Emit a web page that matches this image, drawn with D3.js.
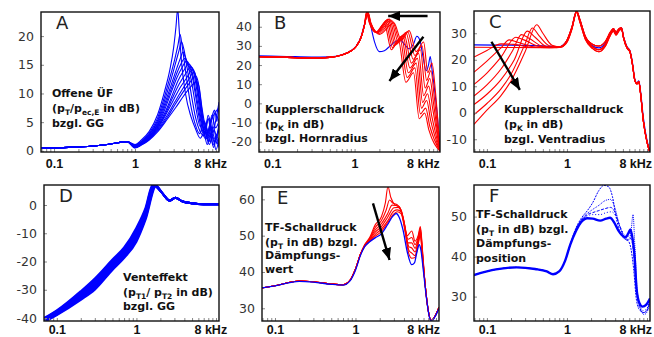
<!DOCTYPE html>
<html>
<head>
<meta charset="utf-8">
<script src="https://cdn.jsdelivr.net/npm/d3@7"></script>
<style>
  body { margin: 0; background: #fff; }
</style>
</head>
<body>
<svg id="chart" width="654" height="337"></svg>
<script>
// ---- data (frequency in kHz, level in dB) ----
const freqDomain = [0.069, 10.9]
const xTickValues = [0.1, 1, 8]
const xTickLabels = ["0.1", "1", "8 kHz"]
const minorTicks = [0.07, 0.08, 0.09, 0.1, 0.2, 0.3, 0.4, 0.5, 0.6, 0.7, 0.8, 0.9, 1, 2, 3, 4, 5, 6, 7, 8, 9, 10]

const A_yTicks = [0, 5, 10, 15, 20]
const B_yTicks = [-20, -10, 0, 10, 20, 30, 40]
const C_yTicks = [-10, 0, 10, 20, 30]
const D_yTicks = [-40, -30, -20, -10, 0]
const E_yTicks = [30, 40, 50, 60]
const F_yTicks = [30, 40, 50]

// A: offene Uebertragungsfunktion
const A_low = [[0.069,0.5],[0.15,0.6],[0.3,0.85],[0.5,1.2],[0.8,1.6]]
const A_curves = [
  [[1.0,1.1],[1.2,1.9],[1.5,3.4],[1.9,6.3],[2.3,10.2],[2.7,14.2],[3.0,18],[3.2,21.5],[3.37,24.8],[3.5,21.5],[3.75,15.5],[4.2,10],[4.9,6],[5.6,3.8],[6.4,2.2],[7.3,3.4],[8.2,1.6],[9.2,4.2],[10.1,2.8],[10.9,4]],
  [[1.0,1.0],[1.2,1.7],[1.5,3.1],[1.9,5.7],[2.3,9.3],[2.7,12.8],[3.1,16],[3.4,18.5],[3.6,20.3],[3.8,18.5],[4.2,14],[4.8,8.5],[5.5,4.8],[6.3,3],[7.1,5],[8.0,2.2],[8.9,5.5],[9.9,6.8],[10.9,7.5]],
  [[1.0,0.95],[1.2,1.6],[1.5,2.9],[1.9,5.3],[2.3,8.6],[2.7,11.8],[3.1,14.8],[3.5,17.5],[3.75,19],[4.0,17.8],[4.4,14.5],[5.0,9.5],[5.6,5.8],[6.3,3.5],[7.2,2.6],[8.1,5.6],[9.1,3.2],[10.0,5.5],[10.9,8.5]],
  [[1.0,0.9],[1.2,1.5],[1.5,2.8],[1.9,5.0],[2.3,8.0],[2.8,11.5],[3.3,14.5],[3.65,16.2],[3.9,17.2],[4.2,16.3],[4.6,14.6],[5.1,11.3],[5.7,7.2],[6.4,4.2],[7.2,5.2],[8.0,3.0],[8.9,6.2],[9.9,4.0],[10.9,5.2]],
  [[1.0,0.85],[1.2,1.4],[1.5,2.6],[1.9,4.7],[2.3,7.5],[2.8,10.8],[3.3,13.6],[3.7,15.2],[4.1,16.1],[4.5,15.2],[5.0,13.6],[5.5,10.3],[6.1,6.3],[6.8,3.2],[7.6,4.2],[8.5,1.6],[9.5,3.6],[10.3,1.2],[10.9,2.3]],
  [[1.0,0.8],[1.2,1.3],[1.5,2.5],[1.9,4.5],[2.3,7.0],[2.8,10.2],[3.3,12.8],[3.8,14.5],[4.3,15.6],[4.7,15.1],[5.2,13.1],[5.8,9.2],[6.5,5.1],[7.3,2.2],[8.2,3.7],[9.2,1.0],[10.2,2.7],[10.9,1.0]],
  [[1.0,0.75],[1.2,1.25],[1.5,2.4],[1.9,4.3],[2.4,7.0],[2.9,9.8],[3.4,12.2],[4.0,14.0],[4.6,15.1],[5.0,14.6],[5.5,12.6],[6.0,9.2],[6.6,5.2],[7.3,3.1],[8.0,6.2],[8.8,4.1],[9.8,2.0],[10.9,4.7]],
  [[1.0,0.7],[1.2,1.2],[1.5,2.3],[1.9,4.1],[2.4,6.6],[2.9,9.2],[3.5,11.6],[4.2,13.4],[4.9,14.6],[5.3,14.1],[5.8,11.6],[6.3,8.1],[6.9,4.2],[7.6,2.1],[8.4,4.6],[9.3,0.6],[10.2,2.1],[10.9,0.6]],
  [[1.0,0.65],[1.2,1.15],[1.5,2.2],[1.9,3.9],[2.4,6.3],[3.0,8.9],[3.6,11.0],[4.3,12.6],[5.1,14.1],[5.5,13.6],[6.0,10.6],[6.5,7.1],[7.1,3.6],[7.8,1.1],[8.6,3.1],[9.5,1.6],[10.9,3.6]],
  [[1.0,0.6],[1.2,1.1],[1.5,2.1],[1.9,3.7],[2.5,6.2],[3.1,8.5],[3.8,10.6],[4.5,12.2],[5.3,13.6],[5.7,12.6],[6.2,9.6],[6.7,6.6],[7.3,4.1],[8.0,5.6],[8.8,3.1],[9.7,6.6],[10.9,5.1]],
  [[1.0,0.55],[1.2,1.05],[1.5,2.0],[1.9,3.5],[2.5,5.8],[3.1,8.0],[3.9,10.2],[4.7,11.8],[5.6,13.1],[6.0,12.1],[6.5,8.6],[7.0,5.1],[7.6,2.6],[8.3,1.1],[9.1,2.6],[10.0,0.2],[10.9,2.1]],
  [[1.0,0.5],[1.2,1.0],[1.5,1.9],[1.9,3.3],[2.5,5.5],[3.2,7.6],[4.0,9.6],[4.9,11.2],[5.8,12.1],[6.2,11.1],[6.7,7.6],[7.3,4.6],[8.0,3.1],[8.8,5.6],[9.6,7.1],[10.3,5.1],[10.9,8.2]]
]

// B: Kupplerschalldruck, Hornradius
const B_blue = [[0.069,24.8],[0.15,24.5],[0.3,24.2],[0.5,24.3],[0.7,25.4],[0.9,27.5],[1.05,30],[1.2,35],[1.32,41.5],[1.45,47.2],[1.58,40],[1.75,32],[2.0,27],[2.3,27.5],[2.7,30],[3.2,32.5],[3.6,33],[4.0,31],[4.6,28.5],[5.2,31],[5.7,35],[6.2,33],[6.8,24],[7.4,17],[7.9,20],[8.3,24.5],[8.7,18],[9.5,5],[10.3,-10],[10.9,-24]]
const B_low = [[0.069,24.3],[0.15,24],[0.3,23.7],[0.5,24],[0.7,25.2],[0.9,27.3],[1.05,29.8],[1.2,34.5],[1.32,41]]
const B_red = [
  [[1.46,47.5],[1.58,42],[2.0,36],[3.0,42],[3.7,33],[4.6,38],[5.6,27],[6.9,32],[7.75,16],[8.7,21],[9.6,6],[10.9,-25]],
  [[1.45,47.5],[1.57,42],[1.97,36.5],[2.88,43],[3.55,32.5],[4.4,37.5],[5.4,25],[6.6,30],[7.5,12],[8.45,17],[9.3,3],[10.9,-25]],
  [[1.44,47.5],[1.56,42],[1.94,37],[2.77,43.5],[3.4,32],[4.2,37],[5.15,23],[6.3,28],[7.2,8],[8.2,13],[9.1,0],[10.9,-25]],
  [[1.43,47.5],[1.55,42],[1.91,37],[2.66,44],[3.25,31],[4.0,36],[4.9,21],[6.0,26],[6.9,4],[7.95,9],[8.9,-3],[10.9,-25]],
  [[1.42,47.5],[1.54,42],[1.88,37],[2.56,44],[3.12,30.5],[3.85,35.5],[4.7,18.5],[5.8,23.5],[6.7,0.5],[7.7,5],[8.6,-6],[10.9,-25]],
  [[1.41,47.5],[1.53,42],[1.85,37],[2.46,43.5],[3.0,30],[3.7,35],[4.5,16],[5.6,21],[6.5,-2.5],[7.5,1.5],[8.4,-9],[10.9,-25]],
  [[1.40,47.5],[1.52,42],[1.82,37],[2.38,42.5],[2.9,29],[3.55,34],[4.35,13.5],[5.4,18.5],[6.3,-5.5],[7.3,-2.5],[8.2,-12],[10.9,-25]],
  [[1.39,47.5],[1.51,42],[1.8,37],[2.3,41.5],[2.8,28],[3.4,33],[4.2,11],[5.2,16],[6.1,-8],[7.1,-5],[8.0,-14],[10.9,-25]]
]

// C: Kupplerschalldruck, Ventradius
const C_blue = [[0.069,25.6],[0.2,25.5],[0.5,25.2],[0.8,24.9],[1.0,27.2],[1.15,32],[1.32,38.3],[1.45,35],[1.7,28.5],[2.1,25.2],[2.5,24.5],[3.0,26.2],[3.5,30.2],[3.8,31.6],[4.1,30.2],[4.5,31.6],[4.8,32],[5.1,28.5],[5.6,25],[6.1,23.5],[6.6,18.5],[7.0,13],[7.5,11.2],[7.9,12],[8.3,8],[9.0,-2],[10,-10.5],[10.9,-14.5]]
const C_redLow = [
  [[0.069,24.7],[0.2,24.6],[0.5,24.6],[0.8,24.8]],
  [[0.069,21],[0.1,23.5],[0.15,26],[0.22,25.8],[0.35,24.7],[0.6,24.6],[0.8,24.8]],
  [[0.069,15.3],[0.1,19.5],[0.15,24.5],[0.19,27.5],[0.25,26.5],[0.4,24.8],[0.6,24.6],[0.8,24.8]],
  [[0.069,10.7],[0.1,15],[0.15,21],[0.23,28.5],[0.29,27.5],[0.45,25],[0.65,24.6],[0.8,24.8]],
  [[0.069,6.3],[0.1,10.5],[0.15,16.5],[0.21,23.5],[0.27,29.5],[0.34,28],[0.5,25],[0.7,24.6],[0.85,24.8]],
  [[0.069,3.1],[0.1,7],[0.15,12.5],[0.22,20],[0.32,30.8],[0.4,28.5],[0.55,25],[0.75,24.6],[0.85,24.8]],
  [[0.069,-0.7],[0.1,3.5],[0.15,9],[0.2,14.5],[0.3,26],[0.37,32],[0.45,29],[0.6,25.3],[0.8,24.8]],
  [[0.069,-4.4],[0.1,1],[0.15,6.5],[0.2,12],[0.3,23],[0.42,33.2],[0.5,30],[0.65,25.5],[0.85,24.8]]
]
const C_redHigh = [
  [[1.0,27.4],[1.15,32.2],[1.32,38.4],[1.45,35.2],[1.7,28.8],[2.1,25.8],[2.5,25.2],[3.0,26.8],[3.5,30.5],[3.8,31.8],[4.1,30.5],[4.5,31.8],[4.8,32.1],[5.1,28.5],[5.6,24.8],[6.1,23.3],[6.6,18],[7.0,12.5],[7.5,11],[7.9,11.8],[8.3,7.5],[9.0,-3],[10,-11],[10.9,-15]],
  [[1.0,27],[1.15,31.8],[1.32,38.2],[1.45,34.6],[1.7,28.2],[2.1,24.8],[2.5,23.8],[3.0,25.6],[3.5,29.8],[3.8,31.2],[4.1,29.8],[4.5,31.3],[4.8,31.8],[5.1,28.2],[5.6,24.6],[6.1,23.2],[6.6,18.2],[7.0,12.8],[7.5,11],[7.9,11.8],[8.3,7.5],[9.0,-3],[10,-11],[10.9,-15]],
  [[1.0,26.6],[1.15,31.4],[1.32,37.9],[1.45,34.2],[1.7,27.6],[2.1,24.2],[2.5,23.0],[3.0,25.0],[3.5,29.3],[3.8,30.8],[4.1,29.3],[4.5,31.0],[4.8,31.5],[5.1,28],[5.6,24.4],[6.1,23],[6.6,18],[7.0,12.6],[7.5,10.8],[7.9,11.6],[8.3,7.2],[9.0,-3.2],[10,-11.2],[10.9,-15]]
]
const C_redHighIndex = [0, 1, 2, 0, 1, 2, 0, 1]

// D: Venteffekt
const D_curves = [
  [[0.069,-40],[0.1,-37.3],[0.2,-30.5],[0.3,-26],[0.5,-19.3],[0.7,-15],[1.0,-8],[1.3,-1],[1.6,7.2]],
  [[0.069,-40.2],[0.1,-37.5],[0.2,-31],[0.3,-26.6],[0.5,-19.8],[0.7,-15.5],[1.0,-8.7],[1.3,-1.6],[1.62,7.1]],
  [[0.069,-40.4],[0.1,-37.8],[0.2,-31.4],[0.3,-27.1],[0.5,-20.4],[0.7,-16.1],[1.0,-9.4],[1.3,-2.2],[1.65,7.1]],
  [[0.069,-40.6],[0.1,-38],[0.2,-31.8],[0.3,-27.7],[0.5,-20.9],[0.7,-16.6],[1.0,-10.1],[1.3,-2.8],[1.67,7]],
  [[0.069,-40.9],[0.1,-38.3],[0.2,-32.3],[0.3,-28.3],[0.5,-21.4],[0.7,-17.2],[1.0,-10.9],[1.3,-3.5],[1.7,7]],
  [[0.069,-41.1],[0.1,-38.5],[0.2,-32.7],[0.3,-28.9],[0.5,-21.9],[0.7,-17.7],[1.0,-11.6],[1.3,-4.1],[1.72,6.9]],
  [[0.069,-41.3],[0.1,-38.8],[0.2,-33.1],[0.3,-29.4],[0.5,-22.5],[0.7,-18.3],[1.0,-12.3],[1.3,-4.7],[1.75,6.9]],
  [[0.069,-41.5],[0.1,-39],[0.2,-33.6],[0.3,-30],[0.5,-23],[0.7,-18.8],[1.0,-13],[1.3,-5.3],[1.78,6.8]]
]
const D_tail = [[2.1,4.3],[2.6,1.6],[3.1,2.6],[3.7,1.4],[5,0.6],[7,0.3],[10.9,0.3]]

// E: TF-Schalldruck, Daempfungswert
const E_blue = [[0.069,35.6],[0.1,36.2],[0.2,37.4],[0.3,37.2],[0.5,36.6],[0.7,36.4],[0.85,37.5],[1.0,40.5],[1.15,44.5],[1.3,47],[1.5,48.3],[1.75,49.4],[2.1,50.5],[2.5,53],[2.9,55.3],[3.2,56.1],[3.5,55],[3.9,51.5],[4.4,45.5],[5.0,42],[5.4,42.5],[5.8,45.5],[6.2,47.5],[6.5,46],[7.0,40],[7.6,33],[8.3,27.5],[8.8,26.5],[9.6,27.5],[10.9,30]]
const E_low = [[0.069,35.6],[0.1,36.2],[0.2,37.5],[0.3,37.3],[0.5,36.7],[0.7,36.5],[0.85,37.6],[1.0,40.8],[1.15,44.8]]
const E_red = [
  [[1.3,47.5],[1.5,49.5],[1.75,52.9],[2.1,55.2],[2.35,59],[2.53,63.5],[2.75,60.5],[3.1,58.5],[3.5,58],[3.9,55],[4.4,50],[5.0,51.3],[5.5,48.5],[6.0,50],[6.4,52.5],[6.8,46]],
  [[1.3,47.4],[1.5,49.2],[1.75,52.2],[2.1,54.2],[2.4,57],[2.65,59.8],[2.9,59],[3.3,58.5],[3.6,57.5],[4.0,54],[4.5,49],[5.0,49.5],[5.5,47.5],[6.0,49.5],[6.4,52],[6.8,45.5]],
  [[1.3,47.3],[1.5,49],[1.75,51.5],[2.1,53.3],[2.5,56],[2.85,58.4],[3.2,58.3],[3.6,57.3],[4.0,53.5],[4.5,48],[5.0,48],[5.5,46.5],[6.0,49],[6.4,51.5],[6.8,45]],
  [[1.3,47.2],[1.5,48.8],[1.75,50.9],[2.1,52.5],[2.5,55],[3.0,57.7],[3.4,57.8],[3.7,57],[4.1,52.5],[4.6,47],[5.0,46.6],[5.5,45.5],[6.0,48.5],[6.4,51],[6.8,44.5]],
  [[1.3,47.1],[1.5,48.6],[1.75,50.3],[2.1,51.8],[2.5,54],[3.0,56.8],[3.3,57.1],[3.7,56.5],[4.1,52],[4.6,46],[5.0,45.2],[5.5,44.5],[6.0,48],[6.4,50.5],[6.8,44]],
  [[1.3,47],[1.5,48.4],[1.75,49.8],[2.1,51.2],[2.5,53.5],[3.0,56],[3.3,56.6],[3.7,56],[4.1,51.5],[4.6,45],[5.0,43.8],[5.5,44],[6.0,47.5],[6.4,50],[6.8,43.5]]
]
const E_tail = [[7.3,37],[8.0,29.5],[8.7,26.6],[9.6,27.6],[10.9,30.3]]

// F: TF-Schalldruck, Daempfungsposition
const F_low = [[0.069,35.4],[0.13,36.8],[0.235,37.3],[0.4,36.9],[0.56,36.3],[0.67,35.6],[0.8,36.3],[0.95,39],[1.1,43]]
const F_curves = [
  [[1.3,47.2],[1.5,49.5],[1.8,51.5],[2.1,53.5],[2.5,56.5],[2.9,57.8],[3.3,57.5],[3.7,55],[4.1,50],[4.6,46],[5.2,44.5],[5.8,44],[6.3,42],[6.8,37],[7.4,29],[8.2,26.5],[9.2,26],[10.2,27],[10.9,29.5]],
  [[1.3,47],[1.5,49.2],[1.8,50.8],[2.1,51.8],[2.5,52.8],[3.0,54],[3.5,54.3],[4.0,52],[4.5,48],[5.1,45],[5.7,44],[6.2,45],[6.7,50.5],[7.0,44],[7.5,32],[8.3,27],[9.2,25.5],[10.2,26.5],[10.9,28.5]],
  [[1.3,46.8],[1.5,49],[1.8,50.5],[2.1,51],[2.5,51.5],[3.0,52],[3.5,52.3],[4.0,51],[4.5,48],[5.1,45.3],[5.7,44.3],[6.3,44.5],[6.8,41],[7.3,33],[8.0,27.5],[9.0,26],[10.0,26.5],[10.9,29]],
  [[1.3,46.6],[1.5,48.8],[1.8,50.2],[2.1,50.5],[2.6,50.5],[3.1,51],[3.6,51.2],[4.1,50],[4.6,47.5],[5.2,45.5],[5.8,45],[6.3,46],[6.8,43],[7.3,34],[8.0,28],[9.0,26.5],[10.0,27],[10.9,30]],
  [[1.3,46.5],[1.5,48.6],[1.8,49.6],[2.1,49.5],[2.6,49],[3.1,49.5],[3.45,49.7],[3.9,48.5],[4.4,46.5],[4.9,45.3],[5.4,44.8],[5.9,46],[6.2,46.8],[6.6,44.5],[7.0,40],[7.4,32],[8.0,28.5],[8.8,27.5],[9.8,28],[10.9,29.5]]
]

// arrows in data coordinates [kHz, dB]
const arrows = [
  {panel: "B", from: [7.7, 45.6], to: [2.56, 45.6]},
  {panel: "B", from: [6.85, 34.8], to: [2.65, 11.7]},
  {panel: "C", from: [0.114, 26.8], to: [0.258, 8.6]},
  {panel: "E", from: [1.65, 58.9], to: [2.65, 43.3]}
]

const labels = {
  A: ["Offene ÜF", "(p_T/p_ec,E in dB)", "bzgl. GG"],
  B: ["Kupplerschalldruck", "(p_K in dB)", "bzgl. Hornradius"],
  C: ["Kupplerschalldruck", "(p_K in dB)", "bzgl. Ventradius"],
  D: ["Venteffekt", "(p_T1/ p_T2 in dB)", "bzgl. GG"],
  E: ["TF-Schalldruck", "(p_T in dB) bzgl.", "Dämpfungs-", "wert"],
  F: ["TF-Schalldruck", "(p_T in dB) bzgl.", "Dämpfungs-", "position"]
}

// ---- styles / layout ----
const blue = "#0000ff"
const red = "#ff0000"
const F_styles = [
  {w: 1, dash: "2,1"},
  {w: 1, dash: "1,1"},
  {w: 1, dash: "3,1.5"},
  {w: 1, dash: "1,2"},
  {w: 2.4, dash: null}
]

const panels = [
  {id: "A", x0: 41, x1: 219, y0: 12, y1: 152, yDomain: [-0.2, 24.2], yTicks: A_yTicks, labPad: 7, khzShift: 2,
   text: {x: 52, y: [97, 112, 127]},
   series: A_curves.map(c => ({data: A_low.concat(c), color: blue, w: 1.1}))},
  {id: "B", x0: 259, x1: 440, y0: 12, y1: 152, yDomain: [-25.4, 47.7], yTicks: B_yTicks, labPad: 7, khzShift: -6,
   text: {x: 265, y: [113, 128, 142]},
   series: [{data: B_blue, color: blue, w: 1.1}].concat(B_red.map(c => ({data: B_low.concat(c), color: red, w: 1.1})))},
  {id: "C", x0: 474, x1: 650, y0: 11, y1: 152, yDomain: [-14.8, 38.4], yTicks: C_yTicks, labPad: 7, khzShift: -4,
   text: {x: 504, y: [113, 128, 143]},
   series: [{data: C_blue, color: blue, w: 1.3}].concat(C_redLow.map((c, i) => ({data: c.concat(C_redHigh[C_redHighIndex[i]]), color: red, w: 1.1})))},
  {id: "D", x0: 44, x1: 219, y0: 185, y1: 321, yDomain: [-41.06, 7.08], yTicks: D_yTicks, labPad: 4, khzShift: 2,
   text: {x: 123, y: [281, 296, 310]},
   series: D_curves.map(c => ({data: c.concat(D_tail), color: blue, w: 2}))},
  {id: "E", x0: 262, x1: 439, y0: 187, y1: 321, yDomain: [26.5, 63.4], yTicks: E_yTicks, labPad: 4, khzShift: -5,
   text: {x: 265, y: [231, 246, 259, 273]},
   series: E_red.map(c => ({data: E_low.concat(c, E_tail), color: red, w: 1.1})).concat([{data: E_blue, color: blue, w: 1.3}])},
  {id: "F", x0: 474, x1: 650, y0: 185, y1: 321, yDomain: [23.9, 57.9], yTicks: F_yTicks, labPad: 4, khzShift: -4,
   text: {x: 476, y: [218, 233, 247, 262]},
   series: F_curves.map((c, i) => ({data: F_low.concat(c), color: blue, w: F_styles[i].w, dash: F_styles[i].dash}))}
]

// ---- drawing ----
const svg = d3.select("#chart")
svg.append("rect").attr("width", 654).attr("height", 337).attr("fill", "#fff")

const defs = svg.append("defs")
defs.append("marker")
  .attr("id", "arrowhead")
  .attr("markerUnits", "userSpaceOnUse")
  .attr("viewBox", "0 0 12 10")
  .attr("refX", 12).attr("refY", 5)
  .attr("markerWidth", 12).attr("markerHeight", 10)
  .attr("orient", "auto")
  .append("path")
  .attr("d", "M0,0 L12,5 L0,10 Z")
  .attr("fill", "#000")

const scales = {}

panels.forEach(p => {
  const x = d3.scaleLog().domain(freqDomain).range([p.x0, p.x1])
  const y = d3.scaleLinear().domain(p.yDomain).range([p.y1, p.y0])
  scales[p.id] = {x, y}
  const g = svg.append("g").attr("class", "panel-" + p.id)

  defs.append("clipPath").attr("id", "clip-" + p.id)
    .append("rect")
    .attr("x", p.x0).attr("y", p.y0)
    .attr("width", p.x1 - p.x0).attr("height", p.y1 - p.y0)

  const line = d3.line()
    .x(d => x(d[0]))
    .y(d => y(d[1]))
    .curve(d3.curveMonotoneX)

  g.append("g")
    .attr("clip-path", "url(#clip-" + p.id + ")")
    .selectAll("path")
    .data(p.series)
    .join("path")
    .attr("d", d => line(d.data))
    .attr("fill", "none")
    .attr("stroke", d => d.color)
    .attr("stroke-width", d => d.w)
    .attr("stroke-dasharray", d => d.dash || null)
    .attr("stroke-linejoin", "round")

  // minor ticks along the bottom, inside the frame
  g.append("g")
    .attr("transform", `translate(0,${p.y1})`)
    .call(d3.axisBottom(x).tickValues(minorTicks).tickSize(-3).tickFormat(""))
    .call(a => a.select(".domain").remove())
    .call(a => a.selectAll("line").attr("stroke", "#888"))

  // x labels
  g.append("g")
    .attr("transform", `translate(0,${p.y1})`)
    .call(d3.axisBottom(x).tickValues(xTickValues).tickSize(0).tickPadding(p.labPad)
      .tickFormat((d, i) => xTickLabels[i]))
    .call(a => a.select(".domain").remove())
    .call(a => a.selectAll("text")
      .attr("font-family", "'Liberation Sans', Arial, sans-serif")
      .attr("font-weight", "bold")
      .attr("font-size", "12.5px")
      .attr("fill", "#111")
      .attr("dx", d => d === 8 ? p.khzShift : 0))

  // y labels
  g.append("g")
    .attr("transform", `translate(${p.x0},0)`)
    .call(d3.axisLeft(y).tickValues(p.yTicks).tickSize(-3).tickPadding(7)
      .tickFormat(d => String(d)))
    .call(a => a.select(".domain").remove())
    .call(a => a.selectAll("line").attr("stroke", "#888"))
    .call(a => a.selectAll("text")
      .attr("font-family", "'DejaVu Sans', Verdana, sans-serif")
      .attr("font-size", "12.5px")
      .attr("fill", "#333"))

  // frame
  g.append("rect")
    .attr("x", p.x0).attr("y", p.y0)
    .attr("width", p.x1 - p.x0).attr("height", p.y1 - p.y0)
    .attr("fill", "none")
    .attr("stroke", "#111")
    .attr("stroke-width", 1.4)

  // panel letter
  g.append("text")
    .attr("x", p.x0 + 15).attr("y", p.y0 + 17)
    .attr("font-family", "'DejaVu Sans', sans-serif")
    .attr("font-size", "18px")
    .attr("fill", "#222")
    .text(p.id)

  // annotation with subscripts
  labels[p.id].forEach((ln, i) => {
    const t = g.append("text")
      .attr("x", p.text.x).attr("y", p.text.y[i])
      .attr("font-family", "'DejaVu Sans', Verdana, sans-serif")
      .attr("font-weight", "bold")
      .attr("font-size", "11px")
      .attr("fill", "#111")
    let shifted = false
    ln.split(/(_[A-Za-z0-9,]+)/).forEach(part => {
      if (!part) return
      if (part[0] === "_") {
        t.append("tspan").attr("dy", 2.5).attr("font-size", "7.5px").text(part.slice(1))
        shifted = true
      } else {
        const s = t.append("tspan").text(part)
        if (shifted) { s.attr("dy", -2.5); shifted = false }
      }
    })
  })
})

// arrows
arrows.forEach(a => {
  const {x, y} = scales[a.panel]
  svg.append("line")
    .attr("x1", x(a.from[0])).attr("y1", y(a.from[1]))
    .attr("x2", x(a.to[0])).attr("y2", y(a.to[1]))
    .attr("stroke", "#000")
    .attr("stroke-width", 2.4)
    .attr("marker-end", "url(#arrowhead)")
})
</script>
</body>
</html>
